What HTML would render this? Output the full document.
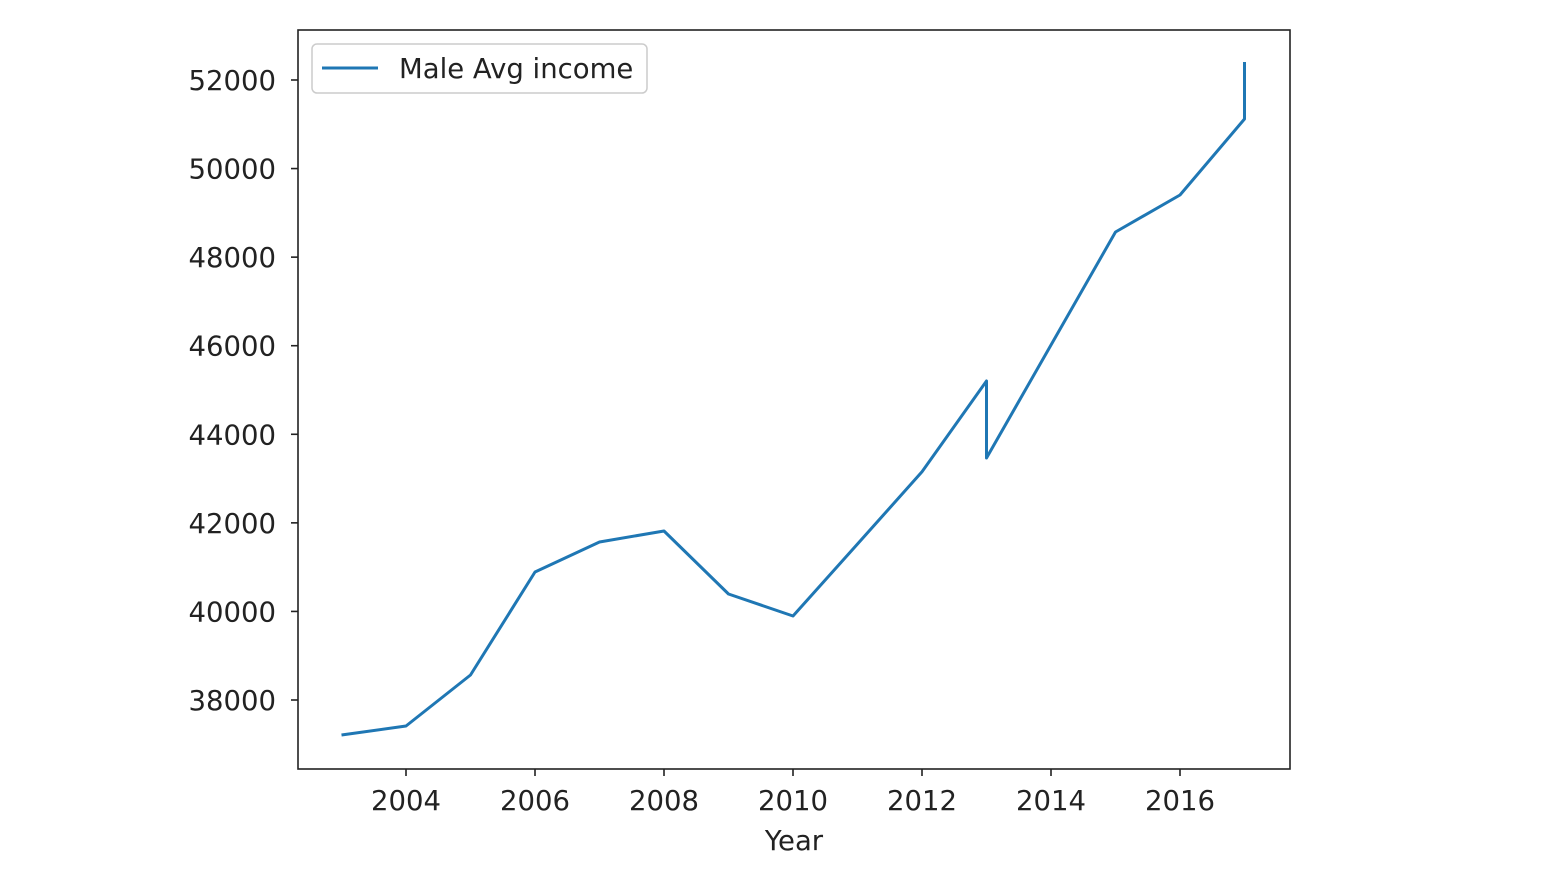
<!DOCTYPE html>
<html><head><meta charset="utf-8"><style>
html,body{margin:0;padding:0;background:#fff;}
svg text{font-family:"DejaVu Sans","Liberation Sans",sans-serif;fill:#222;}
</style></head><body>
<svg id="chart" width="1560" height="868" xmlns="http://www.w3.org/2000/svg">
<rect x="0" y="0" width="1560" height="868" fill="#fff"/>
<g id="yticks"></g><g id="xticks"></g>
<path id="series" fill="none" stroke="#1f77b4" stroke-width="3" stroke-linejoin="round"/>
<rect x="298" y="30" width="992" height="739" fill="none" stroke="#222" stroke-width="1.6"/>
<text x="794" y="850" font-size="27.5" text-anchor="middle">Year</text>
<g>
<rect x="312" y="44" width="335" height="49" rx="5" fill="#fff" stroke="#ccc" stroke-width="1.5"/>
<line x1="322" y1="68" x2="378" y2="68" stroke="#1f77b4" stroke-width="3"/>
<text x="399" y="78" font-size="27.5">Male Avg income</text>
</g>
</svg>
<script>
const years = [2003,2004,2005,2006,2007,2008,2009,2010,2011,2012,2013,2013,2014,2015,2016,2017,2017];
const income = [37210,37413,38565,40890,41568,41816,40393,39897,41523,43152,45203,43465,46016,48568,49403,51119,52406];
const xTickLabels = [2004,2006,2008,2010,2012,2014,2016];
const yTickLabels = [38000,40000,42000,44000,46000,48000,50000,52000];
const NS="http://www.w3.org/2000/svg";
function xs(v){return 406+(v-2004)*64.5;}
function ys(v){return 700-(v-38000)*0.044286;}
let d="";
years.forEach((y,i)=>{d+=(i?"L":"M")+xs(y).toFixed(1)+","+ys(income[i]).toFixed(1);});
document.getElementById("series").setAttribute("d",d);
const yg=document.getElementById("yticks");
yTickLabels.forEach(v=>{
 const l=document.createElementNS(NS,"line");
 l.setAttribute("x1",291);l.setAttribute("x2",298);l.setAttribute("y1",ys(v));l.setAttribute("y2",ys(v));l.setAttribute("stroke","#222");l.setAttribute("stroke-width","1.6");
 
 
 yg.appendChild(l);
 const t=document.createElementNS(NS,"text");
 t.setAttribute("x",276);t.setAttribute("y",ys(v)+10);t.setAttribute("font-size","27.5");t.setAttribute("text-anchor","end");t.textContent=v;
 
 
 yg.appendChild(t);
});
const xg=document.getElementById("xticks");
xTickLabels.forEach(v=>{
 const l=document.createElementNS(NS,"line");
 l.setAttribute("x1",xs(v));l.setAttribute("x2",xs(v));l.setAttribute("y1",769);l.setAttribute("y2",776);l.setAttribute("stroke","#222");l.setAttribute("stroke-width","1.6");
 
 
 xg.appendChild(l);
 const t=document.createElementNS(NS,"text");
 t.setAttribute("x",xs(v));t.setAttribute("y",810);t.setAttribute("font-size","27.5");t.setAttribute("text-anchor","middle");t.textContent=v;
 
 
 xg.appendChild(t);
});
</script>
</body></html>
